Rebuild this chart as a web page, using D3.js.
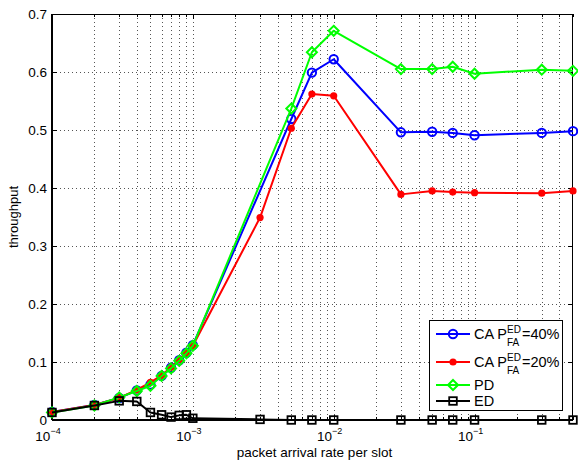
<!DOCTYPE html>
<html>
<head>
<meta charset="utf-8">
<script src="https://cdn.jsdelivr.net/npm/d3@7"></script>
<style>
  html, body { margin: 0; padding: 0; background: #fff; }
  svg { display: block; font-family: "Liberation Sans", Arial, Helvetica, sans-serif; }
</style>
</head>
<body>
<svg id="chart" width="578" height="462"></svg>
<script>
// Packet arrival rates (per slot) at which each scheme was evaluated
const xMain = [1e-4, 2e-4, 3e-4, 4e-4, 5e-4, 6e-4, 7e-4, 8e-4, 9e-4, 1e-3,
               5e-3, 7e-3, 1e-2, 3e-2, 5e-2, 7e-2, 1e-1, 0.3, 0.5];
const xRed  = [1e-4, 2e-4, 3e-4, 4e-4, 5e-4, 6e-4, 7e-4, 8e-4, 9e-4, 1e-3,
               3e-3, 5e-3, 7e-3, 1e-2, 3e-2, 5e-2, 7e-2, 1e-1, 0.3, 0.5];
const xED   = [1e-4, 2e-4, 3e-4, 4e-4, 5e-4, 6e-4, 7e-4, 8e-4, 9e-4, 1e-3,
               3e-3, 5e-3, 7e-3, 1e-2, 3e-2, 5e-2, 7e-2, 1e-1, 0.3, 0.5];

// Throughput per scheme
const ca40 = [0.014, 0.026, 0.038, 0.051, 0.061, 0.076, 0.090, 0.103, 0.116, 0.129,
              0.519, 0.599, 0.622, 0.496, 0.497, 0.495, 0.491, 0.495, 0.498];
const ca20 = [0.014, 0.026, 0.038, 0.052, 0.065, 0.077, 0.091, 0.104, 0.116, 0.128,
              0.349, 0.503, 0.562, 0.559, 0.389, 0.395, 0.393, 0.392, 0.391, 0.395];
const pd   = [0.013, 0.025, 0.039, 0.050, 0.059, 0.076, 0.089, 0.102, 0.115, 0.128,
              0.537, 0.634, 0.671, 0.605, 0.605, 0.609, 0.597, 0.604, 0.602];
const ed   = [0.013, 0.025, 0.033, 0.032, 0.013, 0.009, 0.005, 0.008, 0.009, 0.003,
              0.001, 0, 0, 0, 0, 0, 0, 0, 0, 0];

// Axis ticks
const yTicks = [0, 0.1, 0.2, 0.3, 0.4, 0.5, 0.6, 0.7];
const xMajorExp = [-4, -3, -2, -1];

const svg = d3.select("#chart");
const L = 52, R = 573, T = 14, B = 420;

const x = d3.scaleLog().domain([1e-4, 0.5]).range([L, R]);
const y = d3.scaleLinear().domain([0, 0.7]).range([B, T]);

// All log ticks (major + minor) inside the domain
const logTicks = [];
for (let e = -4; e <= -1; e++) for (let m = 1; m <= 9; m++) {
  const v = m * Math.pow(10, e);
  if (v >= 1e-4 && v <= 0.5 + 1e-12) logTicks.push(v);
}

// Dotted grid
const grid = svg.append("g").attr("stroke", "#555").attr("stroke-width", 1)
  .attr("stroke-dasharray", "1,3");
grid.selectAll("line.v").data(logTicks.filter(v => v > 1e-4 && v < 0.5)).join("line")
  .attr("x1", d => Math.round(x(d)) + 0.5).attr("x2", d => Math.round(x(d)) + 0.5)
  .attr("y1", T).attr("y2", B);
grid.selectAll("line.h").data(yTicks.filter(v => v > 0 && v < 0.7)).join("line")
  .attr("x1", L).attr("x2", R)
  .attr("y1", d => Math.round(y(d)) + 0.5).attr("y2", d => Math.round(y(d)) + 0.5);

// Inward tick marks on all four sides
const tk = svg.append("g").attr("stroke", "#000").attr("stroke-width", 1);
logTicks.forEach(v => {
  const major = Math.abs(Math.log10(v) - Math.round(Math.log10(v))) < 1e-9;
  const len = major ? 5 : 3;
  const px = Math.round(x(v)) + 0.5;
  tk.append("line").attr("x1", px).attr("x2", px).attr("y1", B).attr("y2", B - len);
  tk.append("line").attr("x1", px).attr("x2", px).attr("y1", T).attr("y2", T + len);
});
yTicks.forEach(v => {
  const py = Math.round(y(v)) + 0.5;
  tk.append("line").attr("x1", L).attr("x2", L + 5).attr("y1", py).attr("y2", py);
  tk.append("line").attr("x1", R).attr("x2", R - 5).attr("y1", py).attr("y2", py);
});

// Y tick labels via d3 axis
const yAxis = svg.append("g").attr("transform", `translate(${L},0)`)
  .call(d3.axisLeft(y).tickValues(yTicks).tickSize(0).tickPadding(5)
    .tickFormat(d => d === 0 ? "0" : d3.format(".1f")(d)));
yAxis.select(".domain").remove();
yAxis.selectAll("text").attr("font-size", 13.5).attr("fill", "#000")
  .attr("font-family", "Liberation Sans, Arial, sans-serif");

// X tick labels 10^n
const xl = svg.append("g");
xMajorExp.forEach(e => {
  const t = xl.append("text").attr("x", x(Math.pow(10, e)) - 4).attr("y", B + 21)
    .attr("text-anchor", "middle").attr("font-size", 13.5).attr("fill", "#000");
  t.append("tspan").text("10");
  t.append("tspan").attr("dy", -7).attr("font-size", 9).text("\u2212" + Math.abs(e));
});

// Frame
svg.append("rect").attr("x", L + 0.5).attr("y", T + 0.5)
  .attr("width", R - L - 1).attr("height", B - T - 1)
  .attr("fill", "none").attr("stroke", "#000").attr("stroke-width", 1);
svg.append("line").attr("x1", L).attr("x2", R).attr("y1", B).attr("y2", B)
  .attr("stroke", "#000").attr("stroke-width", 2);
svg.append("line").attr("x1", L).attr("x2", L).attr("y1", T).attr("y2", B)
  .attr("stroke", "#000").attr("stroke-width", 2);

// Axis titles
svg.append("text").attr("x", (L + R) / 2 + 2).attr("y", 457).attr("text-anchor", "middle")
  .attr("font-size", 13.5).attr("fill", "#000").text("packet arrival rate per slot");
svg.append("text").attr("transform", `translate(18,${(T + B) / 2}) rotate(-90)`)
  .attr("text-anchor", "middle").attr("font-size", 13).attr("fill", "#000").text("throughput");

// Marker painters
function marker(g, type, color, cx, cy) {
  if (type === "circle") {
    g.append("circle").attr("cx", cx).attr("cy", cy).attr("r", 4.2)
      .attr("fill", "none").attr("stroke", color).attr("stroke-width", 2);
  } else if (type === "dot") {
    g.append("circle").attr("cx", cx).attr("cy", cy).attr("r", 3.6).attr("fill", color);
  } else if (type === "diamond") {
    const s = 5;
    g.append("path").attr("d", `M${cx},${cy - s}L${cx + s},${cy}L${cx},${cy + s}L${cx - s},${cy}Z`)
      .attr("fill", "none").attr("stroke", color).attr("stroke-width", 2);
  } else if (type === "square") {
    g.append("rect").attr("x", cx - 3.8).attr("y", cy - 3.8).attr("width", 7.6).attr("height", 7.6)
      .attr("fill", "none").attr("stroke", color).attr("stroke-width", 1.8);
  }
}

const series = [
  { name: "ca40", xs: xMain, ys: ca40, color: "#0000ff", m: "circle" },
  { name: "ca20", xs: xRed,  ys: ca20, color: "#ff0000", m: "dot" },
  { name: "pd",   xs: xMain, ys: pd,   color: "#00ff00", m: "diamond" },
  { name: "ed",   xs: xED,   ys: ed,   color: "#000000", m: "square" }
];

const line = d3.line().x(d => x(d[0])).y(d => y(d[1]));
series.forEach(s => {
  const pts = s.xs.map((v, i) => [v, s.ys[i]]);
  const g = svg.append("g");
  g.append("path").attr("d", line(pts)).attr("fill", "none")
    .attr("stroke", s.color).attr("stroke-width", 2).attr("stroke-linejoin", "round");
  pts.forEach(p => marker(g, s.m, s.color, x(p[0]), y(p[1])));
});

// Legend
const lg = svg.append("g");
lg.append("rect").attr("x", 429.5).attr("y", 320.5).attr("width", 133).attr("height", 90)
  .attr("fill", "#fff").attr("stroke", "#000").attr("stroke-width", 1);
const entries = [
  { s: series[0], y: 334, label: "CA P", sup: "ED", sub: "FA", tail: "=40%" },
  { s: series[1], y: 362, label: "CA P", sup: "ED", sub: "FA", tail: "=20%" },
  { s: series[2], y: 385, label: "PD" },
  { s: series[3], y: 401, label: "ED" }
];
entries.forEach(e => {
  lg.append("line").attr("x1", 436).attr("x2", 470).attr("y1", e.y).attr("y2", e.y)
    .attr("stroke", e.s.color).attr("stroke-width", 2);
  marker(lg, e.s.m, e.s.color, 453, e.y);
  const t = lg.append("text").attr("x", 474).attr("y", e.y + 5)
    .attr("font-size", 14.5).attr("fill", "#000");
  t.append("tspan").text(e.label);
  if (e.sup) {
    const bx = 474 + 33;
    lg.append("text").attr("x", bx).attr("y", e.y - 1).attr("font-size", 10).text(e.sup);
    lg.append("text").attr("x", bx).attr("y", e.y + 12).attr("font-size", 10).text(e.sub);
    lg.append("text").attr("x", bx + 15).attr("y", e.y + 5).attr("font-size", 14.5).text(e.tail);
  }
});
</script>
</body>
</html>
